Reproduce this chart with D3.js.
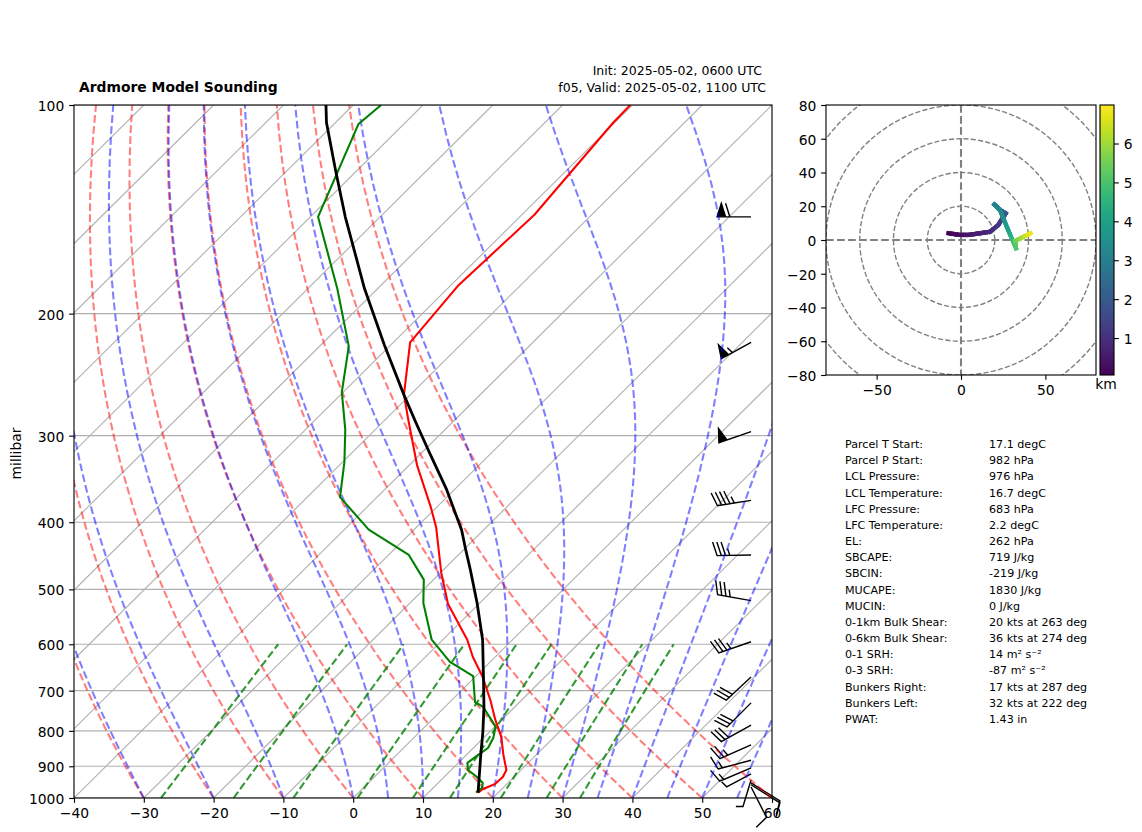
<!DOCTYPE html>
<html><head><meta charset="utf-8">
<script src="https://cdnjs.cloudflare.com/ajax/libs/d3/7.8.5/d3.min.js"></script>
<style>html,body{margin:0;padding:0;background:#fff}svg{display:block}text{font-family:"DejaVu Sans",sans-serif;fill:#000}</style>
</head><body><svg id="c" width="1142" height="832"></svg>
<script>
// sounding: temperature
const tempP=[982,970.5,954.5,932.6,911,866.6,816.4,771.5,722,669,626,591,525,473,406.6,380.8,330.8,284.5,262,220,182.5,144,106,100];
const tempC=[17.1,17.3,18.3,18.4,17.9,15.3,12.4,9.1,5.5,1.1,-3.2,-6.5,-14.4,-19.9,-27.2,-30.8,-38.9,-46.7,-50.9,-57.6,-58.9,-58.2,-60.2,-60.3];
// sounding: dewpoint
const dewP=[982,967,951.4,932.6,911,890,866.6,847,819,789,739,727,667,636,591,523,484,446,410,368,327,294,259.6,223,184,145,106.5,100];
const dewC=[16.8,17,16.4,14.7,12.4,11.3,11.7,12.1,11.4,10.1,5.5,3.6,-0.4,-5.8,-11.6,-18.1,-21.4,-27.1,-36.5,-45.3,-49.8,-54.3,-60.2,-65.8,-75.8,-88.9,-96.5,-96];
// parcel profile
const parcelP=[982,861,806,739,675,591,523,468,440,410,384,359,318,287.7,262,222,184,145,124,106,100];
const parcelC=[17.1,11.8,9.2,5.6,1.6,-4.3,-10.4,-16.2,-19.5,-23.2,-27.1,-31.1,-38.8,-45.1,-50.9,-60.9,-71.9,-85,-93.2,-101.3,-103.9];
// wind barbs
const barbP=[145,220,296,372,446,519,595,669,729,785,838,882,905,923,942,957,951,964];
const barbSpeed=[60,55,50,45,35,35,35,30,30,30,25,15,15,5,5,10,10,10];
const barbDir=[270,241,251,261,269,280,251,227,225,241,246,255,247,242,197,122,122,153];
// background line families
const pressureTicks=[1000,900,800,700,600,500,400,300,200,100];
const tempTicks=[-40,-30,-20,-10,0,10,20,30,40,50,60];
const isotherms=d3.range(-140,61,10);
const dryT0=[-40,-30,-20,-10,0,10,20,30,40,50,60];
const moistT0=[-40,-30,-20,-10,0,5,10,15,20,25,30,35,40,45,50,55,60];
const mixingW=[0.0004,0.001,0.002,0.004,0.007,0.01,0.016,0.024,0.032];
// hodograph
const hodoU=[-7.5,-0.6,4.3,11.3,17.2,22.1,25.1,26.5,23.1,19.7,23.1,27.1,32.6,32,41.3];
const hodoV=[4,3,3,4,4.9,8.9,13.8,15.8,17.8,21.1,17.8,7.9,-4.9,-0.6,4];
const hodoH=[0.05,0.25,0.45,0.65,0.85,1.1,1.4,1.8,2.4,3,3.2,3.8,5,5.3,6.9];
const hodoRings=[20,40,60,80,100];
const hodoXTicks=[-50,0,50];
const hodoYTicks=[-80,-60,-40,-20,0,20,40,60,80];
const cbTicks=[1,2,3,4,5,6];
const cbDomain=[0.05,6.99];
// stats table
const statLabels=["Parcel T Start:","Parcel P Start:","LCL Pressure:","LCL Temperature:","LFC Pressure:","LFC Temperature:","EL:","SBCAPE:","SBCIN:","MUCAPE:","MUCIN:","0-1km Bulk Shear:","0-6km Bulk Shear:","0-1 SRH:","0-3 SRH:","Bunkers Right:","Bunkers Left:","PWAT:"];
const statValues=["17.1 degC","982 hPa","976 hPa","16.7 degC","683 hPa","2.2 degC","262 hPa","719 J/kg","-219 J/kg","1830 J/kg","0 J/kg","20 kts at 263 deg","36 kts at 274 deg","14 m² s⁻²","-87 m² s⁻²","17 kts at 287 deg","32 kts at 222 deg","1.43 in"];

const svg=d3.select("#c");
const PX=1000/720;
const x=d3.scaleLinear().domain([-40,60]).range([74,772]);
const y=d3.scaleLog().domain([1000,100]).range([798,105]);
const skew=(772-74)/(798-105);
const sx=(t,p)=>x(t)+(y(1000)-y(p))*skew;
const line=d3.line().x(d=>sx(d[0],d[1])).y(d=>y(d[1]));
const defs=svg.append("defs");
defs.append("clipPath").attr("id","sk").append("rect").attr("x",74).attr("y",105).attr("width",698).attr("height",693);
defs.append("clipPath").attr("id","hd").append("rect").attr("x",826).attr("y",105).attr("width",270).attr("height",270);

const sk=svg.append("g");
// grid
const grid=sk.append("g").attr("clip-path","url(#sk)");
grid.selectAll("line.h").data(pressureTicks).join("line").attr("x1",74).attr("x2",772).attr("y1",d=>y(d)).attr("y2",d=>y(d)).attr("stroke","#b0b0b0").attr("stroke-width",1.11);
grid.selectAll("line.t").data(isotherms).join("line").attr("class","t")
  .attr("x1",d=>sx(d,1000)).attr("y1",y(1000)).attr("x2",d=>sx(d,100)).attr("y2",y(100)).attr("stroke","#b0b0b0").attr("stroke-width",1.11);

// barbs
const BL=34,BH=0.4*BL,BW=0.25*BL,BS=0.125*BL,barbX=x(-40)+0.97*698;
const barbG=sk.append("g").attr("fill","#000").attr("stroke","#000").attr("stroke-width",1.4).attr("stroke-linejoin","miter");
barbP.forEach((p,i)=>{
  const sp=barbSpeed[i],a=barbDir[i]*Math.PI/180;
  const e=[Math.sin(a),-Math.cos(a)],n=[-e[1],e[0]];
  const tx=barbX,ty=y(p);
  const pt=(o,h)=>[tx+e[0]*o+n[0]*h,ty+e[1]*o+n[1]*h];
  const nf=Math.floor(sp/50),nb=Math.floor((sp-nf*50)/10),nh=Math.floor((sp-nf*50-nb*10)/5);
  const verts=[pt(0,0)];
  let o=BL;
  for(let k=0;k<nf;k++){verts.push(pt(o,0),pt(o-BW/2,BH),pt(o-BW,0));o-=BW+BS;}
  for(let k=0;k<nb;k++){verts.push(pt(o,0),pt(o+BW/2,BH),pt(o,0));o-=BS;}
  if(nh){if(!nf&&!nb)o-=1.5*BS;verts.push(pt(o,0),pt(o+BW/4,BH/2),pt(o,0));}
  barbG.append("path").attr("d","M"+verts.map(v=>v.join(",")).join("L")+"Z");
});

// background thermodynamic lines
const bg=sk.append("g").attr("clip-path","url(#sk)").attr("fill","none");
const levels=d3.range(1000,99.9,-10);
const dryLine=t0=>levels.map(p=>[(t0+273.15)*Math.pow(p/1000,0.2857)-273.15,p]);
const dash=w=>`${3.7*w},${1.6*w}`;
bg.append("g").selectAll("path").data(dryT0).join("path").attr("d",d=>line(dryLine(d)))
  .attr("stroke","#ff0000").attr("stroke-opacity",0.5).attr("stroke-width",1.5*PX).attr("stroke-dasharray",dash(1.5*PX));
function moistLine(t0){
  const Rd=287.05,Cp=1005.7,Lv=2.501e6,eps=0.622;
  const f=(T,p)=>{const es=6.112*Math.exp(17.67*(T-273.15)/(T-29.65));const rs=eps*es/Math.max(p-es,1e-3);
    return ((Rd*T+Lv*rs)/(Cp+(Lv*Lv*rs*eps/(Rd*T*T))))/p;};
  let T=t0+273.15;const out=[[t0,1000]];
  for(let p=1000;p>100;p-=10){const h=-10,k1=f(T,p),k2=f(T+h*k1/2,p+h/2),k3=f(T+h*k2/2,p+h/2),k4=f(T+h*k3,p+h);
    T+=h*(k1+2*k2+2*k3+k4)/6;out.push([T-273.15,p+h]);}
  return out;
}
bg.append("g").selectAll("path").data(moistT0).join("path").attr("d",d=>line(moistLine(d)))
  .attr("stroke","#0000ff").attr("stroke-opacity",0.5).attr("stroke-width",1.5*PX).attr("stroke-dasharray",dash(1.5*PX));
const mixLine=w=>d3.range(1000,599.9,-20).map(p=>{const l=Math.log((w*p/(w+0.622))/6.112);return [243.5*l/(17.67-l),p];});
bg.append("g").selectAll("path").data(mixingW).join("path").attr("d",d=>line(mixLine(d)))
  .attr("stroke","#008000").attr("stroke-opacity",0.8).attr("stroke-width",1.5*PX).attr("stroke-dasharray",dash(1.5*PX));

// profiles
const prof=sk.append("g").attr("clip-path","url(#sk)").attr("fill","none").attr("stroke-linejoin","round");
prof.append("path").attr("d",line(tempP.map((p,i)=>[tempC[i],p]))).attr("stroke","#ff0000").attr("stroke-width",2.08);
prof.append("path").attr("d",line(dewP.map((p,i)=>[dewC[i],p]))).attr("stroke","#008000").attr("stroke-width",2.08);
prof.append("path").attr("d",line(parcelP.map((p,i)=>[parcelC[i],p]))).attr("stroke","#000").attr("stroke-width",2.8);

// frame & axes
function style(g){g.select(".domain").remove();g.selectAll("line").attr("stroke","#000").attr("stroke-width",1.11);g.selectAll("text").style("font-size","13.89px").style("font-family",'"DejaVu Sans"').attr("fill","#000");}
const vShift=g=>g.selectAll("text").attr("dy","0.39em");
sk.append("rect").attr("x",74).attr("y",105).attr("width",698).attr("height",693).attr("fill","none").attr("stroke","#000").attr("stroke-width",1.11);
sk.append("g").attr("transform","translate(0,798)").call(d3.axisBottom(x).tickValues(tempTicks).tickSize(4.86).tickPadding(4.86)).call(style);
sk.append("g").attr("transform","translate(74,0)").call(d3.axisLeft(y).tickValues(pressureTicks).tickFormat(d3.format("d")).tickSize(4.86).tickPadding(4.86)).call(style).call(vShift);
svg.append("text").attr("transform","translate(21,453.5) rotate(-90)").attr("text-anchor","middle").style("font-size","13.89px").text("millibar");
svg.append("text").attr("x",79).attr("y",92).style("font-size","13.89px").style("font-weight","bold").text("Ardmore Model Sounding");
svg.append("text").attr("x",762).attr("y",74.5).attr("text-anchor","end").style("font-size","12.5px").text("Init: 2025-05-02, 0600 UTC");
svg.append("text").attr("x",766).attr("y",92).attr("text-anchor","end").style("font-size","12.5px").text("f05, Valid: 2025-05-02, 1100 UTC");

// hodograph
const hx=d3.scaleLinear().domain([-80,80]).range([826,1096]);
const hy=d3.scaleLinear().domain([-80,80]).range([375,105]);
const hod=svg.append("g");
const hc=hod.append("g").attr("clip-path","url(#hd)");
hc.selectAll("circle").data(hodoRings).join("circle").attr("cx",hx(0)).attr("cy",hy(0)).attr("r",d=>hx(d)-hx(0))
  .attr("fill","none").attr("stroke","#808080").attr("stroke-width",1.39).attr("stroke-dasharray",dash(1.39));
hc.append("line").attr("x1",826).attr("x2",1096).attr("y1",hy(0)).attr("y2",hy(0)).attr("stroke","#808080").attr("stroke-width",2.08).attr("stroke-dasharray",dash(2.08));
hc.append("line").attr("x1",hx(0)).attr("x2",hx(0)).attr("y1",105).attr("y2",375).attr("stroke","#808080").attr("stroke-width",2.08).attr("stroke-dasharray",dash(2.08));
const cbScale=d3.scaleLinear().domain(cbDomain).range([375,105]);
const colorOf=h=>d3.interpolateViridis((h-cbDomain[0])/(cbDomain[1]-cbDomain[0]));
for(let i=0;i<hodoU.length-1;i++){
  const steps=8;
  for(let s=0;s<steps;s++){
    const a=s/steps,b=(s+1)/steps;
    hc.append("line").attr("x1",hx(hodoU[i]+(hodoU[i+1]-hodoU[i])*a)).attr("y1",hy(hodoV[i]+(hodoV[i+1]-hodoV[i])*a))
      .attr("x2",hx(hodoU[i]+(hodoU[i+1]-hodoU[i])*b)).attr("y2",hy(hodoV[i]+(hodoV[i+1]-hodoV[i])*b))
      .attr("stroke",colorOf(hodoH[i]+(hodoH[i+1]-hodoH[i])*(a+b)/2)).attr("stroke-width",4.2).attr("stroke-linecap","square");
  }
}
hod.append("rect").attr("x",826).attr("y",105).attr("width",270).attr("height",270).attr("fill","none").attr("stroke","#000").attr("stroke-width",1.11);
hod.append("g").attr("transform","translate(0,375)").call(d3.axisBottom(hx).tickValues(hodoXTicks).tickSize(4.86).tickPadding(4.86)).call(style);
hod.append("g").attr("transform","translate(826,0)").call(d3.axisLeft(hy).tickValues(hodoYTicks).tickSize(4.86).tickPadding(4.86)).call(style).call(vShift);

// colorbar
const grad=defs.append("linearGradient").attr("id","vir").attr("x1",0).attr("x2",0).attr("y1",1).attr("y2",0);
d3.range(0,1.001,0.05).forEach(t=>grad.append("stop").attr("offset",t).attr("stop-color",d3.interpolateViridis(t)));
svg.append("rect").attr("x",1100).attr("y",105).attr("width",14).attr("height",270).attr("fill","url(#vir)").attr("stroke","#000").attr("stroke-width",1.11);
svg.append("g").attr("transform","translate(1114,0)").call(d3.axisRight(cbScale).tickValues(cbTicks).tickFormat(d3.format("d")).tickSize(4.86).tickPadding(4.86)).call(style).call(vShift);
svg.append("text").attr("x",1106).attr("y",389).attr("text-anchor","middle").style("font-size","13.89px").text("km");

// stats
const st=svg.append("g").style("font-size","11.11px");
const rowY=d3.scaleLinear().domain([0,17]).range([448,723]);
st.selectAll("text.l").data(statLabels).join("text").attr("class","l").attr("x",845).attr("y",(d,i)=>rowY(i)).text(d=>d);
st.selectAll("text.v").data(statValues).join("text").attr("class","v").attr("x",989).attr("y",(d,i)=>rowY(i)).text(d=>d);
</script></body></html>
